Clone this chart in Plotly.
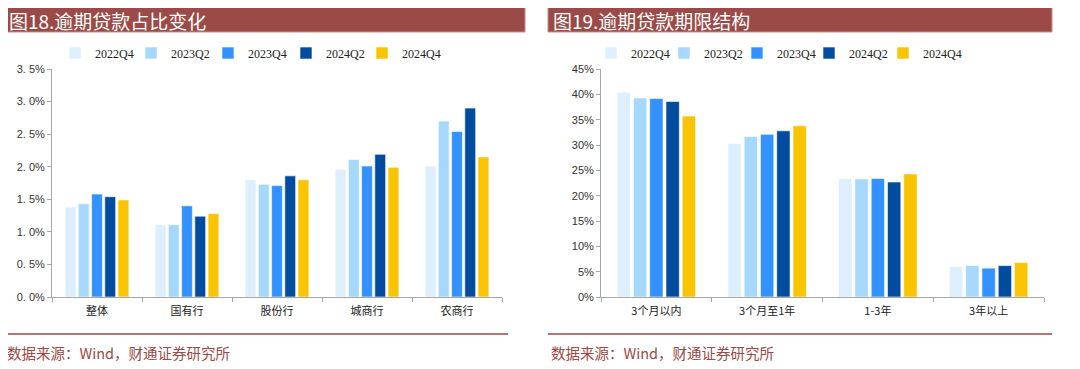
import plotly.graph_objects as go

# page body has an 8px margin; figure is sized/offset to compensate
OFF = 8
W, H = 1080 - OFF, 369 - OFF

series = ["2022Q4", "2023Q2", "2023Q4", "2024Q2", "2024Q4"]
colors = ["#DDEEFD", "#A6D7FD", "#3392FF", "#024C9F", "#F9C400"]

# Chart 18: overdue loan ratio (%)
cats18 = ["整体", "国有行", "股份行", "城商行", "农商行"]
v18_2022Q4 = [1.38, 1.11, 1.80, 1.96, 2.01]
v18_2023Q2 = [1.43, 1.11, 1.73, 2.11, 2.70]
v18_2023Q4 = [1.58, 1.40, 1.71, 2.01, 2.54]
v18_2024Q2 = [1.54, 1.24, 1.86, 2.19, 2.90]
v18_2024Q4 = [1.49, 1.28, 1.80, 1.99, 2.15]
vals18 = [v18_2022Q4, v18_2023Q2, v18_2023Q4, v18_2024Q2, v18_2024Q4]
ticks18 = [0, 0.5, 1.0, 1.5, 2.0, 2.5, 3.0, 3.5]
ticktext18 = ["0. 0%", "0. 5%", "1. 0%", "1. 5%", "2. 0%", "2. 5%", "3. 0%", "3. 5%"]

# Chart 19: overdue loan maturity structure (%)
cats19 = ["3个月以内", "3个月至1年", "1-3年", "3年以上"]
v19_2022Q4 = [40.4, 30.3, 23.4, 6.0]
v19_2023Q2 = [39.3, 31.7, 23.3, 6.2]
v19_2023Q4 = [39.2, 32.1, 23.4, 5.7]
v19_2024Q2 = [38.6, 32.8, 22.7, 6.2]
v19_2024Q4 = [35.7, 33.8, 24.3, 6.8]
vals19 = [v19_2022Q4, v19_2023Q2, v19_2023Q4, v19_2024Q2, v19_2024Q4]
ticks19 = [0, 5, 10, 15, 20, 25, 30, 35, 40, 45]
ticktext19 = [f"{t}%" for t in ticks19]

title18 = "图18.逾期贷款占比变化"
title19 = "图19.逾期贷款期限结构"
source = "数据来源：Wind，财通证券研究所"

BANNER = "#9B4A47"
CJK = "Noto Sans CJK SC"

def px_x(p):
    return (p - OFF) / W

def px_y(p):
    return 1 - (p - OFF) / H

# legend left positions (page pixels) for each series in each chart
leg18_x = [55, 131, 208, 286, 362]
leg19_x = [591, 664, 737, 809, 883]
LEG_Y = 53

fig = go.Figure()
legends = {}
k = 0
for i, (name, col, v) in enumerate(zip(series, colors, vals18)):
    k += 1
    lname = "legend" if k == 1 else f"legend{k}"
    fig.add_trace(go.Bar(x=cats18, y=v, name=name,
                         marker=dict(color=col, line=dict(color="rgba(255,255,255,0.6)", width=1)),
                         xaxis="x", yaxis="y", legend=lname))
    legends[lname] = leg18_x[i]
for i, (name, col, v) in enumerate(zip(series, colors, vals19)):
    k += 1
    lname = f"legend{k}"
    fig.add_trace(go.Bar(x=cats19, y=v, name=name,
                         marker=dict(color=col, line=dict(color="rgba(255,255,255,0.6)", width=1)),
                         xaxis="x2", yaxis="y2", legend=lname))
    legends[lname] = leg19_x[i]

axis_common = dict(showgrid=False, zeroline=False, showline=True, linecolor="#A6A6A6", linewidth=1,
                   ticks="outside", tickcolor="#A6A6A6", ticklen=4, automargin=False)

legend_common = dict(orientation="h", bgcolor="rgba(0,0,0,0)",
                     font=dict(family="Liberation Serif", size=12, color="#222"),
                     itemwidth=30, yanchor="middle", xanchor="left")

fig.update_layout(
    width=W, height=H, margin=dict(l=0, r=0, t=0, b=0, autoexpand=False),
    paper_bgcolor="white", plot_bgcolor="white",
    barmode="group", bargap=0.265, bargroupgap=0.18,
    xaxis=dict(domain=[px_x(52), px_x(502)], anchor="y", tickson="boundaries", ticklabelstandoff=4,
               tickfont=dict(family=CJK, size=11, color="#222"), **axis_common),
    yaxis=dict(domain=[px_y(297), px_y(69)], anchor="x", range=[0, 3.5], tickvals=ticks18, ticktext=ticktext18,
               tickfont=dict(family="Liberation Sans", size=11, color="#333"), **axis_common),
    xaxis2=dict(domain=[px_x(601), px_x(1044)], anchor="y2", tickson="boundaries", ticklabelstandoff=4,
                tickfont=dict(family=CJK, size=11, color="#222"), **axis_common),
    yaxis2=dict(domain=[px_y(297), px_y(69)], anchor="x2", range=[0, 45], tickvals=ticks19, ticktext=ticktext19,
                tickfont=dict(family="Liberation Sans", size=11, color="#333"), **axis_common),
    showlegend=True,
)
fig.update_layout({ln: dict(x=px_x(lx), y=px_y(LEG_Y), **legend_common) for ln, lx in legends.items()})

shapes = []
annotations = []
for (x0, x1, t, lx1) in [(4, 525, title18, 508), (548, 1052, title19, 1052)]:
    shapes.append(dict(type="rect", xref="paper", yref="paper", x0=px_x(x0), x1=px_x(x1), y0=px_y(32), y1=px_y(4),
                       fillcolor=BANNER, line=dict(color="#C98C88", width=1), layer="below"))
    annotations.append(dict(text=t, xref="paper", yref="paper", x=px_x(x0 + 3), y=px_y(20.5), xanchor="left", yanchor="middle",
                            showarrow=False, font=dict(family=CJK, size=19, color="white")))
    shapes.append(dict(type="line", xref="paper", yref="paper", x0=px_x(x0), x1=px_x(lx1), y0=px_y(334), y1=px_y(334),
                       line=dict(color=BANNER, width=1.5)))
    annotations.append(dict(text=source, xref="paper", yref="paper", x=px_x(x0 + 1), y=px_y(352), xanchor="left", yanchor="middle",
                            showarrow=False, font=dict(family=CJK, size=14.5, color=BANNER)))

fig.update_layout(shapes=shapes, annotations=annotations)
fig.write_html("out.html")
